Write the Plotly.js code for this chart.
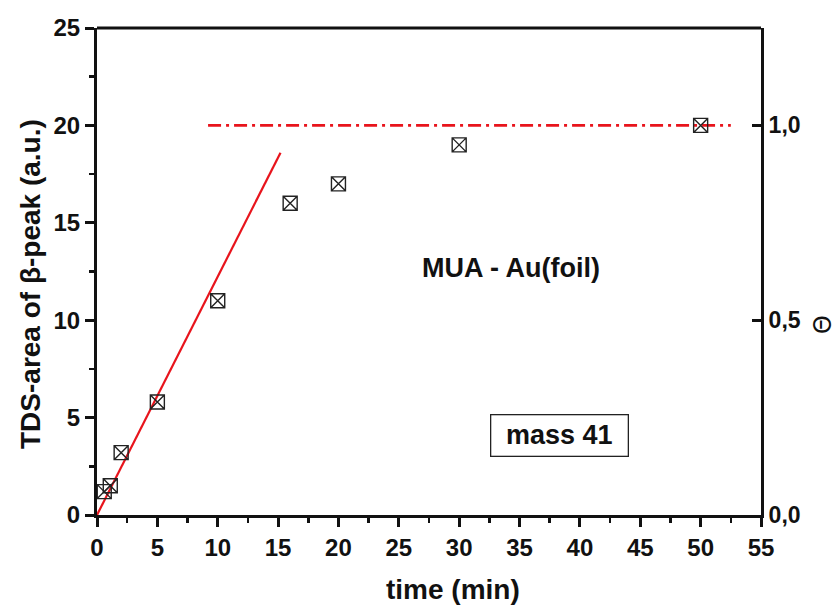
<!DOCTYPE html>
<html><head><meta charset="utf-8">
<script src="https://cdn.plot.ly/plotly-3.0.1.min.js"></script>
<style>html,body{margin:0;padding:0;background:#fff;}#chart{width:838px;height:608px;}</style>
</head><body><div id="chart"></div>
<script>
var time = [0.6, 1.1, 2, 5, 10, 16, 20, 30, 50];
var area = [1.2, 1.5, 3.2, 5.8, 11, 16, 17, 19, 20];
var fitX = [0, 15.2];
var fitY = [0, 18.6];
var satX = [9.2, 52.5];
var satY = [20, 20];
var xTicks = [0,5,10,15,20,25,30,35,40,45,50,55];
var yTicks = [0,5,10,15,20,25];
var rightTicks = [0, 0.5, 1.0];
var rightLabels = ["0,0", "0,5", "1,0"];

var F = "Liberation Sans, Arial, sans-serif";
var TF = {size: 24, family: F, weight: 700, color: "#111"};
var traces = [
  {x: fitX, y: fitY, mode: "lines", line: {color: "#e8141c", width: 2.2}, hoverinfo: "skip"},
  {x: satX, y: satY, mode: "lines", line: {color: "#e8141c", width: 2.8, dash: "13px,5px,3px,5px"}, hoverinfo: "skip"},
  {x: time, y: area, mode: "markers", marker: {symbol: "square-x-open", size: 14, color: "#222", line: {width: 1.4, color: "#222"}}},
  {x: [0], y: [0], yaxis: "y2", mode: "markers", marker: {opacity: 0}, hoverinfo: "skip"}
];
var layout = {
  width: 838, height: 608,
  margin: {l: 97, r: 77, t: 28, b: 93},
  paper_bgcolor: "#fff", plot_bgcolor: "#fff",
  showlegend: false,
  font: {family: F, color: "#111"},
  xaxis: {
    range: [0, 55], tickvals: xTicks, ticktext: xTicks.map(String),
    ticks: "outside", ticklen: 9, tickwidth: 3, tickcolor: "#111",
    minor: {tickvals: [2.5,7.5,12.5,17.5,22.5,27.5,32.5,37.5,42.5,47.5,52.5], ticks: "outside", ticklen: 5, tickwidth: 2.5, tickcolor: "#111"},
    showline: true, linewidth: 3, linecolor: "#111", mirror: false,
    showgrid: false, zeroline: false,
    tickfont: TF
  },
  yaxis: {
    range: [0, 25], tickvals: yTicks, ticktext: yTicks.map(String),
    ticks: "outside", ticklen: 9, tickwidth: 3, tickcolor: "#111",
    minor: {tickvals: [2.5,7.5,12.5,17.5,22.5], ticks: "outside", ticklen: 5, tickwidth: 2.5, tickcolor: "#111"},
    showline: true, linewidth: 3, linecolor: "#111",
    showgrid: false, zeroline: false,
    tickfont: TF
  },
  yaxis2: {
    overlaying: "y", side: "right", range: [0, 1.25],
    tickvals: rightTicks, ticktext: rightLabels,
    ticks: "inside", ticklen: 9, tickwidth: 3, tickcolor: "#111",
    showline: true, linewidth: 3, linecolor: "#111",
    showgrid: false, zeroline: false,
    tickfont: {size: 23, family: F, weight: 700, color: "#111"}
  },
  shapes: [
    {type: "line", xref: "paper", yref: "paper", x0: 0, x1: 1, y0: 1, y1: 1, line: {color: "#111", width: 3}}
  ],
  annotations: [
    {x: 34.3, y: 12.7, xref: "x", yref: "y", text: "<b>MUA - Au(foil)</b>", showarrow: false, font: {size: 27, family: F, color: "#111"}},
    {x: 38.3, y: 4.1, xref: "x", yref: "y", text: "<b>mass 41</b>", showarrow: false, font: {size: 27, family: F, color: "#111"},
     bordercolor: "#222", borderwidth: 1.3, borderpad: 4, bgcolor: "#fff", width: 128, height: 32},
    {x: 30, y: 284, text: "<b>TDS-area of β-peak (a.u.)</b>", textangle: -90, showarrow: false, font: {size: 28, family: F, color: "#111"}},
    {x: 453, y: 589, text: "<b>time (min)</b>", showarrow: false, font: {size: 28, family: F, color: "#111"}},
    {x: 823, y: 325, text: "Θ", textangle: -90, showarrow: false, font: {size: 24, family: "DejaVu Sans, sans-serif", weight: 400, color: "#111"}}
  ]
};
// convert pixel positions of the title annotations to paper coordinates
var pw = 838 - 97 - 77, ph = 608 - 28 - 93;
layout.annotations.slice(2).forEach(function(a){
  a.xref = "paper"; a.yref = "paper"; a.xanchor = "center"; a.yanchor = "middle";
  a.x = (a.x - 97) / pw; a.y = (608 - 93 - a.y) / ph;
});
Plotly.newPlot("chart", traces, layout, {displayModeBar: false, staticPlot: true});
</script></body></html>
